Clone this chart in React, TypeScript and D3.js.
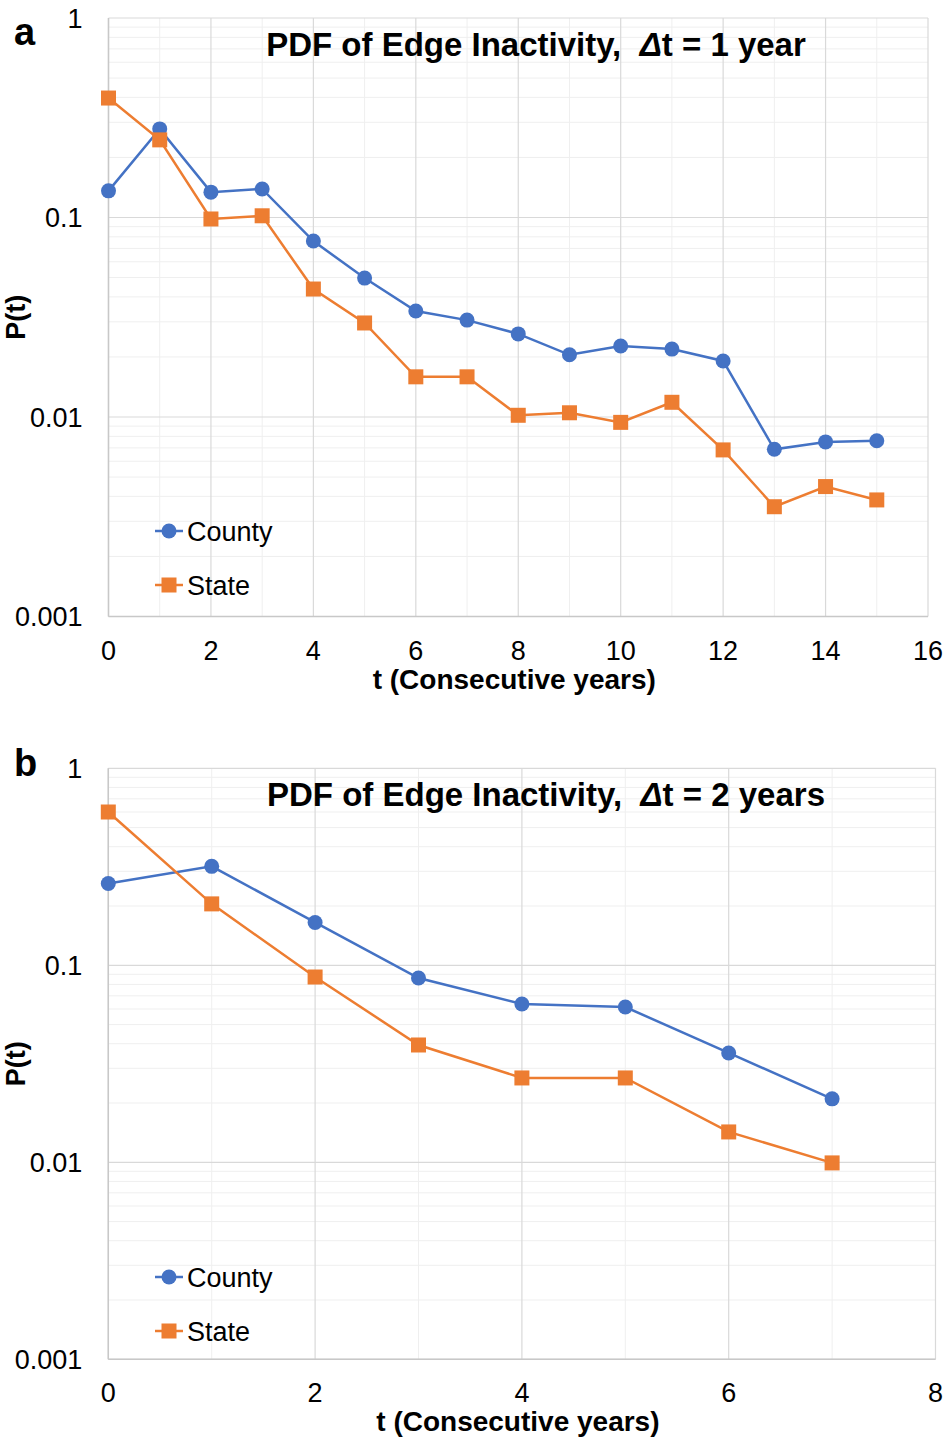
import React from "react";
import * as d3 from "d3";

const tA = [0, 1, 2, 3, 4, 5, 6, 7, 8, 9, 10, 11, 12, 13, 14, 15];
const countyA = [0.136, 0.278, 0.134, 0.139, 0.0762, 0.0497, 0.034, 0.0306, 0.0261, 0.0205, 0.0227, 0.0219, 0.0191, 0.00689, 0.0075, 0.0076];
const stateA = [0.397, 0.245, 0.0983, 0.102, 0.0438, 0.0296, 0.0159, 0.0159, 0.0102, 0.0105, 0.0094, 0.01185, 0.00684, 0.00355, 0.00448, 0.00384];

const tB = [0, 1, 2, 3, 4, 5, 6, 7];
const countyB = [0.26, 0.318, 0.165, 0.0862, 0.0636, 0.0614, 0.0359, 0.021];
const stateB = [0.6, 0.205, 0.0872, 0.0394, 0.0268, 0.0268, 0.01426, 0.00993];

const xTicksA = [0, 2, 4, 6, 8, 10, 12, 14, 16];
const xTicksB = [0, 2, 4, 6, 8];
const yTicks = [1, 0.1, 0.01, 0.001];
const yTickLabels = ["1", "0.1", "0.01", "0.001"];

const BLUE = "#4472C4";
const ORANGE = "#ED7D31";
const FONT = "'Liberation Sans', Arial, sans-serif";

type PanelProps = {
  letter: string;
  letterY: number;
  titlePre: string;
  titlePost: string;
  t: number[];
  county: number[];
  state: number[];
  xMax: number;
  xTicks: number[];
  left: number;
  right: number;
  top: number;
  bottom: number;
  titleX: number;
  legOffset: number;
};

function Panel(p: PanelProps) {
  const x = d3.scaleLinear().domain([0, p.xMax]).range([p.left, p.right]);
  const y = d3.scaleLog().domain([0.001, 1]).range([p.bottom, p.top]);
  const minorX = d3.range(1, p.xMax, 2);
  const minorY: number[] = [];
  [0.001, 0.01, 0.1].forEach((d) => {
    for (let k = 2; k <= 9; k++) minorY.push(d * k);
  });
  const line = d3
    .line<number>()
    .x((_, i) => x(p.t[i]))
    .y((v) => y(v));
  const legY1 = p.bottom - p.legOffset;
  const legY2 = legY1 + 54;
  const r = 7.5;
  const s = 15;
  return (
    <g>
      {minorY.map((v, i) => (
        <line key={"my" + i} x1={p.left} x2={p.right} y1={y(v)} y2={y(v)} stroke="#efefef" strokeWidth={1} />
      ))}
      {minorX.map((v, i) => (
        <line key={"mx" + i} x1={x(v)} x2={x(v)} y1={p.top} y2={p.bottom} stroke="#efefef" strokeWidth={1} />
      ))}
      {yTicks.map((v, i) => (
        <line key={"gy" + i} x1={p.left} x2={p.right} y1={y(v)} y2={y(v)} stroke="#d9d9d9" strokeWidth={1.2} />
      ))}
      {p.xTicks.map((v, i) => (
        <line key={"gx" + i} x1={x(v)} x2={x(v)} y1={p.top} y2={p.bottom} stroke="#d9d9d9" strokeWidth={1.2} />
      ))}
      <line x1={p.left} x2={p.left} y1={p.top} y2={p.bottom} stroke="#c8c8c8" strokeWidth={1.5} />
      <line x1={p.left} x2={p.right} y1={p.bottom} y2={p.bottom} stroke="#c8c8c8" strokeWidth={1.5} />
      {yTicks.map((v, i) => (
        <text key={"yt" + i} x={p.left - 26} y={y(v)} dy="0.36em" textAnchor="end" fontSize={27} fontFamily={FONT} fill="#000">
          {yTickLabels[i]}
        </text>
      ))}
      {p.xTicks.map((v, i) => (
        <text key={"xt" + i} x={x(v)} y={p.bottom + 43} textAnchor="middle" fontSize={27} fontFamily={FONT} fill="#000">
          {v}
        </text>
      ))}
      <text x={(p.left + p.right) / 2 - 4} y={p.bottom + 72} textAnchor="middle" fontSize={28} fontWeight="bold" fontFamily={FONT} fill="#000">
        t (Consecutive years)
      </text>
      <text transform={`translate(25,${(p.top + p.bottom) / 2}) rotate(-90)`} textAnchor="middle" fontSize={27} fontWeight="bold" fontFamily={FONT} fill="#000">
        P(t)
      </text>
      <text x={14} y={p.letterY} fontSize={38} fontWeight="bold" fontFamily={FONT} fill="#000">
        {p.letter}
      </text>
      <text x={p.titleX} y={p.top + 38} textAnchor="middle" fontSize={33} fontWeight="bold" fontFamily={FONT} fill="#000">
        {p.titlePre}
        <tspan fontStyle="italic">Δ</tspan>
        {p.titlePost}
      </text>
      <path d={line(p.county) || ""} fill="none" stroke={BLUE} strokeWidth={2.5} />
      <path d={line(p.state) || ""} fill="none" stroke={ORANGE} strokeWidth={2.5} />
      {p.county.map((v, i) => (
        <circle key={"c" + i} cx={x(p.t[i])} cy={y(v)} r={r} fill={BLUE} />
      ))}
      {p.state.map((v, i) => (
        <rect key={"s" + i} x={x(p.t[i]) - s / 2} y={y(v) - s / 2} width={s} height={s} fill={ORANGE} />
      ))}
      <line x1={155} x2={183} y1={legY1} y2={legY1} stroke={BLUE} strokeWidth={2.5} />
      <circle cx={169} cy={legY1} r={r} fill={BLUE} />
      <text x={187} y={legY1} dy="0.36em" fontSize={27} fontFamily={FONT} fill="#000">
        County
      </text>
      <line x1={155} x2={183} y1={legY2} y2={legY2} stroke={ORANGE} strokeWidth={2.5} />
      <rect x={169 - s / 2} y={legY2 - s / 2} width={s} height={s} fill={ORANGE} />
      <text x={187} y={legY2} dy="0.36em" fontSize={27} fontFamily={FONT} fill="#000">
        State
      </text>
    </g>
  );
}

export default function App() {
  return (
    <svg width={944} height={1449} style={{ position: "absolute", left: 0, top: 0, background: "#fff" }}>
      <rect x={0} y={0} width={944} height={1449} fill="#fff" />
      <Panel
        letter="a"
        letterY={45}
        titlePre={"PDF of Edge Inactivity,\u00A0 "}
        titlePost="t = 1 year"
        t={tA}
        county={countyA}
        state={stateA}
        xMax={16}
        xTicks={xTicksA}
        left={108.5}
        right={928}
        top={18}
        bottom={616.5}
        titleX={536}
        legOffset={85.5}
      />
      <Panel
        letter="b"
        letterY={776}
        titlePre={"PDF of Edge Inactivity,\u00A0 "}
        titlePost="t = 2 years"
        t={tB}
        county={countyB}
        state={stateB}
        xMax={8}
        xTicks={xTicksB}
        left={108.3}
        right={935.5}
        top={768.3}
        bottom={1359.3}
        titleX={546}
        legOffset={82.3}
      />
    </svg>
  );
}
